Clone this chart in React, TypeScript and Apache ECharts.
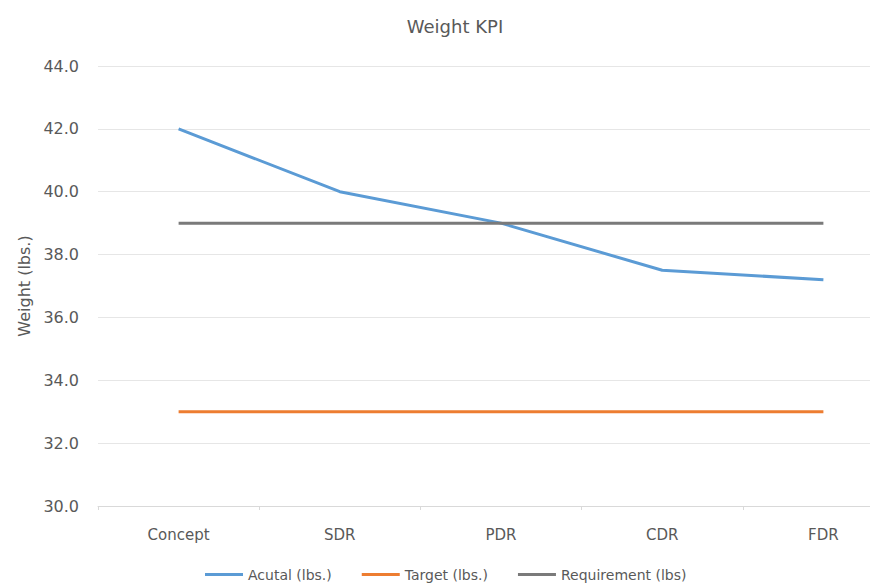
import React, { useEffect, useRef } from "react";
import * as echarts from "echarts";

const categories = ["Concept", "SDR", "PDR", "CDR", "FDR"];
const actualValues = [42.0, 40.0, 39.0, 37.5, 37.2];
const targetValues = [33.0, 33.0, 33.0, 33.0, 33.0];
const requirementValues = [39.0, 39.0, 39.0, 39.0, 39.0];
const seriesNames = ["Acutal (lbs.)", "Target (lbs.)", "Requirement (lbs)"];

export default function App() {
  const ref = useRef<HTMLDivElement>(null);
  useEffect(() => {
    document.body.style.margin = "0";
    const chart = echarts.init(ref.current!, null, { renderer: "svg" });
    const font = "'DejaVu Sans', sans-serif";
    chart.setOption({
      animation: false,
      backgroundColor: "#ffffff",
      title: {
        text: "Weight KPI",
        left: 450,
        textAlign: "center",
        top: 12,
        textStyle: { fontSize: 18, fontWeight: "normal", color: "#595959", fontFamily: font },
      },
      legend: {
        top: 567,
        left: 205,
        padding: 0,
        itemWidth: 38,
        itemHeight: 3,
        itemGap: 30,
        icon: "rect",
        textStyle: { fontSize: 14, lineHeight: 15, color: "#595959", fontFamily: font },
        data: seriesNames,
      },
      grid: { left: 98, top: 66, bottom: 78, right: 8 },
      xAxis: {
        type: "category",
        data: categories,
        boundaryGap: true,
        axisLine: { lineStyle: { color: "#d9d9d9" } },
        axisTick: { show: true, alignWithLabel: false, lineStyle: { color: "#d9d9d9" }, length: 4 },
        axisLabel: { color: "#595959", fontSize: 15, margin: 21, fontFamily: font },
      },
      yAxis: {
        type: "value",
        min: 30,
        max: 44,
        interval: 2,
        name: "Weight (lbs.)",
        nameLocation: "middle",
        nameGap: 65,
        nameTextStyle: { color: "#595959", fontSize: 16, fontFamily: font },
        axisLine: { show: false },
        axisTick: { show: false },
        axisLabel: {
          color: "#595959",
          fontSize: 16,
          margin: 19,
          fontFamily: font,
          formatter: (v: number) => v.toFixed(1),
        },
        splitLine: { lineStyle: { color: "#e6e6e6", width: 1 } },
      },
      series: [
        {
          name: seriesNames[0],
          type: "line",
          data: actualValues,
          showSymbol: false,
          symbol: "none",
          lineStyle: { color: "#5B9BD5", width: 3 },
          itemStyle: { color: "#5B9BD5" },
        },
        {
          name: seriesNames[1],
          type: "line",
          data: targetValues,
          showSymbol: false,
          symbol: "none",
          lineStyle: { color: "#ED7D31", width: 3 },
          itemStyle: { color: "#ED7D31" },
        },
        {
          name: seriesNames[2],
          type: "line",
          data: requirementValues,
          showSymbol: false,
          symbol: "none",
          lineStyle: { color: "#7a7a7a", width: 3 },
          itemStyle: { color: "#7a7a7a" },
        },
      ],
    });
    return () => chart.dispose();
  }, []);
  return (
    <div style={{ width: 876, height: 584, background: "#ffffff" }}>
      <div style={{ width: 870, height: 584, overflow: "hidden" }}>
        <div ref={ref} style={{ width: 912, height: 584 }} />
      </div>
    </div>
  );
}
